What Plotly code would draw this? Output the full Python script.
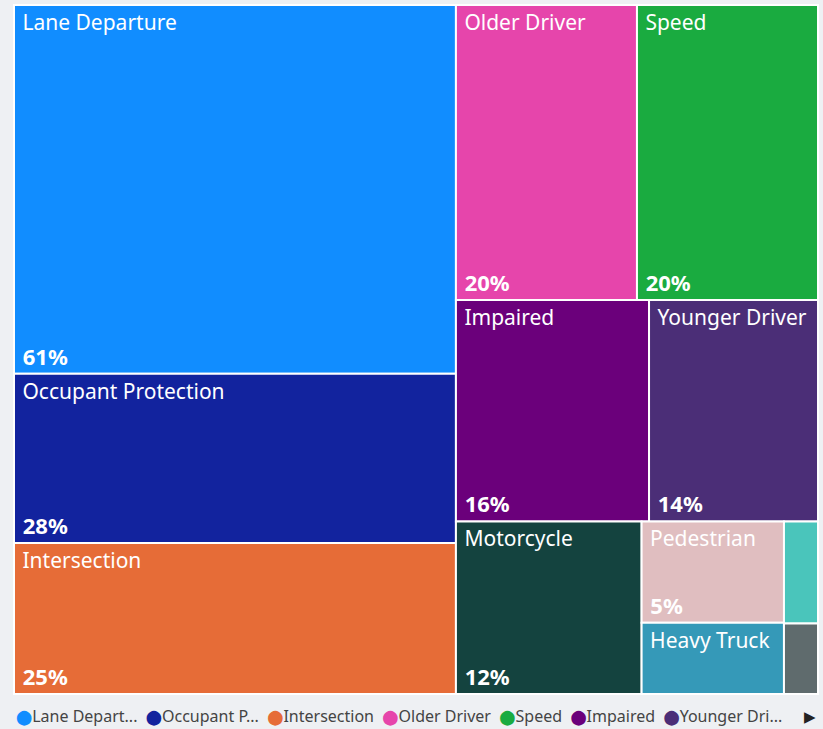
import plotly.graph_objects as go

categories = ["Lane Departure", "Occupant Protection", "Intersection", "Older Driver",
              "Speed", "Impaired", "Younger Driver", "Motorcycle", "Pedestrian",
              "Heavy Truck", "Bicyclist", "Work Zone"]
values = [61, 28, 25, 20, 20, 16, 14, 12, 5.4, 3.8, 1.3, 0.9]
colors = ["#118DFF", "#12239E", "#E66C37", "#E645AB", "#1AAB40", "#6B007B",
          "#4B2E77", "#14433F", "#E0BEC0", "#3599B8", "#4AC5BB", "#5F6B6D"]
show_label = [True] * 10 + [False] * 2
show_pct = [True] * 9 + [False] * 3
legend_labels = ["Lane Depart...", "Occupant P...", "Intersection", "Older Driver",
                 "Speed", "Impaired", "Younger Dri..."]

FONT = "Segoe UI, Noto Sans, Open Sans, sans-serif"
NB = "\u00a0"
BG = "#EEF0F3"

parents = [""] * len(categories)

label_tpl = [(NB + "%{label}") if s else "" for s in show_label]
pct_tpl = [(NB + f"{round(v)}%") if s else "" for v, s in zip(values, show_pct)]

fig = go.Figure()
fig.add_trace(go.Treemap(
    labels=categories, parents=parents, values=values,
    marker=dict(colors=colors, line=dict(color="#FFFFFF", width=2), pad=dict(t=0, l=0, r=0, b=0)),
    texttemplate=label_tpl, textposition="top left",
    textfont=dict(family=FONT, size=21, color="white"),
    tiling=dict(packing="squarify", squarifyratio=1.618, pad=0),
    pathbar=dict(visible=False), sort=True,
    hovertemplate="%{label}<br>%{value}%<extra></extra>",
))
fig.add_trace(go.Treemap(
    labels=categories, parents=parents, values=values,
    marker=dict(colors=["rgba(0,0,0,0)"] * len(categories), line=dict(width=0), pad=dict(t=0, l=0, r=0, b=0)),
    texttemplate=pct_tpl, textposition="bottom left",
    textfont=dict(family=FONT, size=22, color="white", weight="bold"),
    tiling=dict(packing="squarify", squarifyratio=1.618, pad=0),
    pathbar=dict(visible=False), sort=True,
    hoverinfo="skip",
))

legend_parts = []
for lab, col in zip(legend_labels, colors):
    legend_parts.append(
        f'<span style="color:{col};font-family:DejaVu Sans;font-size:14.5px">⬤</span>{lab}')
legend_text = (NB + NB).join(legend_parts)

fig.add_annotation(text=legend_text, xref="paper", yref="paper", x=0, y=-0.032,
                   xanchor="left", yanchor="middle", showarrow=False, align="left",
                   font=dict(family=FONT, size=16, color="#444444"))
fig.add_annotation(text="▶", xref="paper", yref="paper", x=1.0, y=-0.032,
                   xanchor="right", yanchor="middle", showarrow=False,
                   font=dict(family=FONT, size=15, color="#222222"))

fig.update_layout(
    width=823, height=729,
    margin=dict(l=14, r=5, t=5, b=35),
    paper_bgcolor=BG,
    plot_bgcolor=BG,
    showlegend=False,
)

fig.write_html("out.html", config={"displayModeBar": False},
               post_script=f"document.body.style.margin='0';document.body.style.background='{BG}';")
